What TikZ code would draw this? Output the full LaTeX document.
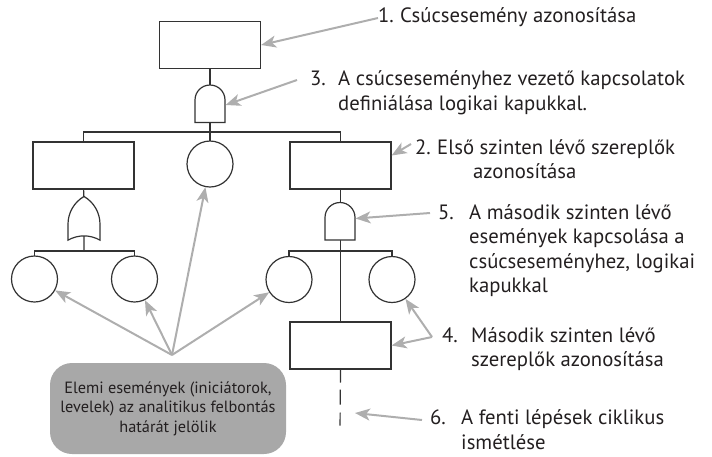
\documentclass[tikz,border=0pt]{standalone}
\usepackage{fontspec}
\setmainfont{PT Sans}
\usetikzlibrary{arrows.meta,shapes.gates.logic.US,backgrounds}

\definecolor{linegray}{HTML}{333333}
\definecolor{arrowgray}{HTML}{AEAEAE}
\definecolor{boxgray}{HTML}{A8A8A8}
\definecolor{textblack}{HTML}{231F20}

\tikzset{
  event/.style={draw=linegray,line width=1.2pt,fill=white,inner sep=0,minimum width=101pt,minimum height=47pt},
  basic/.style={draw=linegray,line width=1.2pt,fill=white,circle,inner sep=0,minimum size=46pt},
  andg/.style={and gate US,draw=linegray,line width=1.2pt,fill=white,rotate=90,inner sep=0,minimum width=34pt,minimum height=30pt},
  org/.style={or gate US,draw=linegray,line width=1.2pt,fill=white,rotate=90,inner sep=0,minimum width=31pt,minimum height=32pt},
  link/.style={draw=linegray,line width=1.2pt},
  pointer/.style={draw=arrowgray,line width=2pt,-{Stealth[length=15pt,width=12pt,inset=4pt]}},
  note/.style={anchor=west,inner sep=0,text=textblack,font=\fontsize{20.7}{24.5}\selectfont},
  leafnote/.style={fill=boxgray,rounded corners=22pt,inner sep=0,minimum width=236pt,minimum height=91pt,align=center,text=textblack,font=\fontsize{16.3}{19.5}\selectfont}
}

\begin{document}
\begin{tikzpicture}[x=1pt,y=-1pt]
\useasboundingbox (0,0) rectangle (712,456);
%tree
\node[event] (top) at (210,45) {};
\node[andg] (a1) at (210,105) {};
\node[event] (lb) at (83.5,165.5) {};
\node[basic] (mc) at (210,164) {};
\node[event] (rb) at (340.5,165.5) {};
\node[org] (og) at (84,221.5) {};
\node[basic] (c1) at (34.5,279) {};
\node[basic] (c2) at (134.5,279) {};
\node[andg] (a2) at (340,222.5) {};
\node[basic] (c3) at (289,279.5) {};
\node[basic] (c4) at (392,279.5) {};
\node[event] (b4) at (340.5,345.5) {};
\coordinate (j1) at (210,132);
\coordinate (j2) at (84,251);
\coordinate (j3) at (340,251);
\coordinate (e6) at (340,431);
\begin{scope}[on background layer]
\draw[link] (top.center) -- (mc.center);
\draw[link] (lb.center) |- (j1) -| (rb.center);
\draw[link] (lb.center) -- (j2);
\draw[link] (c1.center) |- (j2) -| (c2.center);
\draw[link] (rb.center) -- (b4.center);
\draw[link] (c3.center) |- (j3) -| (c4.center);
\end{scope}
\draw[link,dash pattern=on 13pt off 7pt on 15pt off 8pt] (b4.south) -- (e6);
%texts
\node[note] (s1) at (378,18) {\begin{tabular}{@{}p{22pt}@{}l@{}}1.&Csúcsesemény azonosítása\end{tabular}};
\node[note] (s3) at (310,93) {\begin{tabular}{@{}p{28pt}@{}l@{}}3.&A csúcseseményhez vezető kapcsolatok\\&definiálása logikai kapukkal.\end{tabular}};
\node[note] (s2) at (415,161.5) {\begin{tabular}{@{}p{22pt}@{}l@{}}2.&Első szinten lévő szereplők\\&\hspace*{36pt}azonosítása\end{tabular}};
\node[note] (s5) at (438,251) {\begin{tabular}{@{}p{31pt}@{}l@{}}5.&A második szinten lévő\\&események kapcsolása a\\&csúcseseményhez, logikai\\&kapukkal\end{tabular}};
\node[note] (s4) at (442,349.5) {\begin{tabular}{@{}p{29pt}@{}l@{}}4.&Második szinten lévő\\&szereplők azonosítása\end{tabular}};
\node[note] (s6) at (430,432) {\begin{tabular}{@{}p{31pt}@{}l@{}}6.&A fenti lépések ciklikus\\&ismétlése\end{tabular}};
\node[leafnote] (leaf) at (168,408.5) {Elemi események (iniciátorok,\\levelek) az analitikus felbontás\\határát jelölik};
%arrows
\coordinate (p3) at (297,80);
\coordinate (p2) at (411,144);
\coordinate (p5) at (430,213);
\coordinate (p4) at (432,337);
\coordinate (p6) at (422,420);
\coordinate (t6) at (355,413);
\coordinate (hub) at (172,355);
\draw[pointer] (s1.west) -- (top.east);
\draw[pointer] (p3) -- (a1.south);
\draw[pointer] (p2) -- ([yshift=10pt]rb.east);
\draw[pointer] (p5) -- ([yshift=4pt]a2.south);
\draw[pointer] (p4) -- (c4);
\draw[pointer] (p4) -- (b4.east);
\draw[pointer] (p6) -- (t6);
\draw[pointer] (hub) -- (c1);
\draw[pointer] (hub) -- (c2);
\draw[pointer] (hub) -- (mc);
\draw[pointer] (hub) -- (c3);
\end{tikzpicture}
\end{document}
